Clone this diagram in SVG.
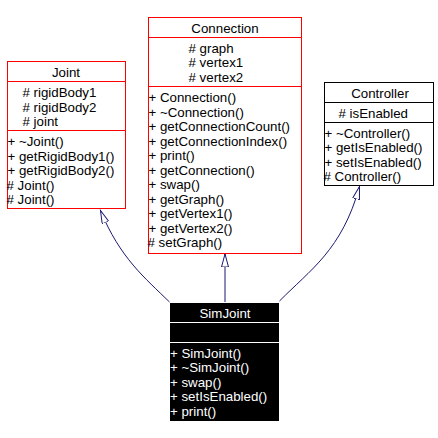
<svg xmlns="http://www.w3.org/2000/svg" width="438" height="438" viewBox="0 0 438 438">
<style>
text{font-family:"Liberation Sans",Arial,sans-serif;font-size:13.3px;fill:#000}
.box{fill:#fff;stroke:#ff0000;stroke-width:1}
.bk{fill:#fff;stroke:#000;stroke-width:1}
.t{text-anchor:middle}
.w{fill:#fff}
.edge{fill:none;stroke:#191970;stroke-width:1}
</style>
<defs>
<marker id="tri" markerUnits="userSpaceOnUse" markerWidth="16" markerHeight="10" refX="13" refY="4" orient="auto" viewBox="0 0 16 10">
<path d="M13,4 L0,0.5 L0,7.5 Z" fill="#fff" stroke="#191970" stroke-width="1"/>
</marker>
</defs>
<rect width="438" height="438" fill="#fff"/>
<g id="edges">
<path class="edge" d="M169.5,302 C145,278 120,258 100.5,210.5" marker-end="url(#tri)"/>
<path class="edge" d="M225,302 L225,254" marker-end="url(#tri)"/>
<path class="edge" d="M279.5,301 C310,270 342,250 359.5,186.5" marker-end="url(#tri)"/>
</g>
<g id="Joint">
<rect class="box" x="7.5" y="61.5" width="118" height="147"/>
<line class="box" x1="7.5" y1="81.5" x2="125.5" y2="81.5"/>
<line class="box" x1="7.5" y1="130.5" x2="125.5" y2="130.5"/>
<text class="t" x="66" y="77">Joint</text>
<text x="22.5" y="97"># rigidBody1</text>
<text x="22.5" y="111.5"># rigidBody2</text>
<text x="22.5" y="126"># joint</text>
<text x="7.5" y="146">+ ~Joint()</text>
<text x="7.5" y="160.5">+ getRigidBody1()</text>
<text x="7.5" y="175">+ getRigidBody2()</text>
<text x="6.5" y="189.5"># Joint()</text>
<text x="6.5" y="204"># Joint()</text>
</g>
<g id="Connection">
<rect class="box" x="148.5" y="17.5" width="153" height="236"/>
<line class="box" x1="148.5" y1="37.5" x2="301.5" y2="37.5"/>
<line class="box" x1="148.5" y1="86.5" x2="301.5" y2="86.5"/>
<text class="t" x="225" y="33">Connection</text>
<text x="188.5" y="52.5"># graph</text>
<text x="188.5" y="67"># vertex1</text>
<text x="188.5" y="81.5"># vertex2</text>
<text x="148.5" y="102">+ Connection()</text>
<text x="148.5" y="116.5">+ ~Connection()</text>
<text x="148.5" y="131">+ getConnectionCount()</text>
<text x="148.5" y="145.5">+ getConnectionIndex()</text>
<text x="148.5" y="160">+ print()</text>
<text x="148.5" y="174.5">+ getConnection()</text>
<text x="148.5" y="189">+ swap()</text>
<text x="148.5" y="203.5">+ getGraph()</text>
<text x="148.5" y="218">+ getVertex1()</text>
<text x="148.5" y="232.5">+ getVertex2()</text>
<text x="147.5" y="247"># setGraph()</text>
</g>
<g id="Controller">
<rect class="bk" x="324.5" y="82.5" width="109" height="103"/>
<line class="bk" x1="324.5" y1="102.5" x2="433.5" y2="102.5"/>
<line class="bk" x1="324.5" y1="122.5" x2="433.5" y2="122.5"/>
<text class="t" x="380" y="98">Controller</text>
<text x="338.5" y="118"># isEnabled</text>
<text x="324.5" y="137.5">+ ~Controller()</text>
<text x="324.5" y="152">+ getIsEnabled()</text>
<text x="324.5" y="166.5">+ setIsEnabled()</text>
<text x="323.5" y="181"># Controller()</text>
</g>
<g id="SimJoint">
<rect x="170" y="303" width="109" height="118" fill="#000"/>
<line x1="170" y1="322.5" x2="279" y2="322.5" stroke="#fff"/>
<line x1="170" y1="342.5" x2="279" y2="342.5" stroke="#fff"/>
<text class="t w" x="225" y="318">SimJoint</text>
<text class="w" x="170" y="357.5">+ SimJoint()</text>
<text class="w" x="170" y="372">+ ~SimJoint()</text>
<text class="w" x="170" y="386.5">+ swap()</text>
<text class="w" x="170" y="401">+ setIsEnabled()</text>
<text class="w" x="170" y="415.5">+ print()</text>
</g>
</svg>
